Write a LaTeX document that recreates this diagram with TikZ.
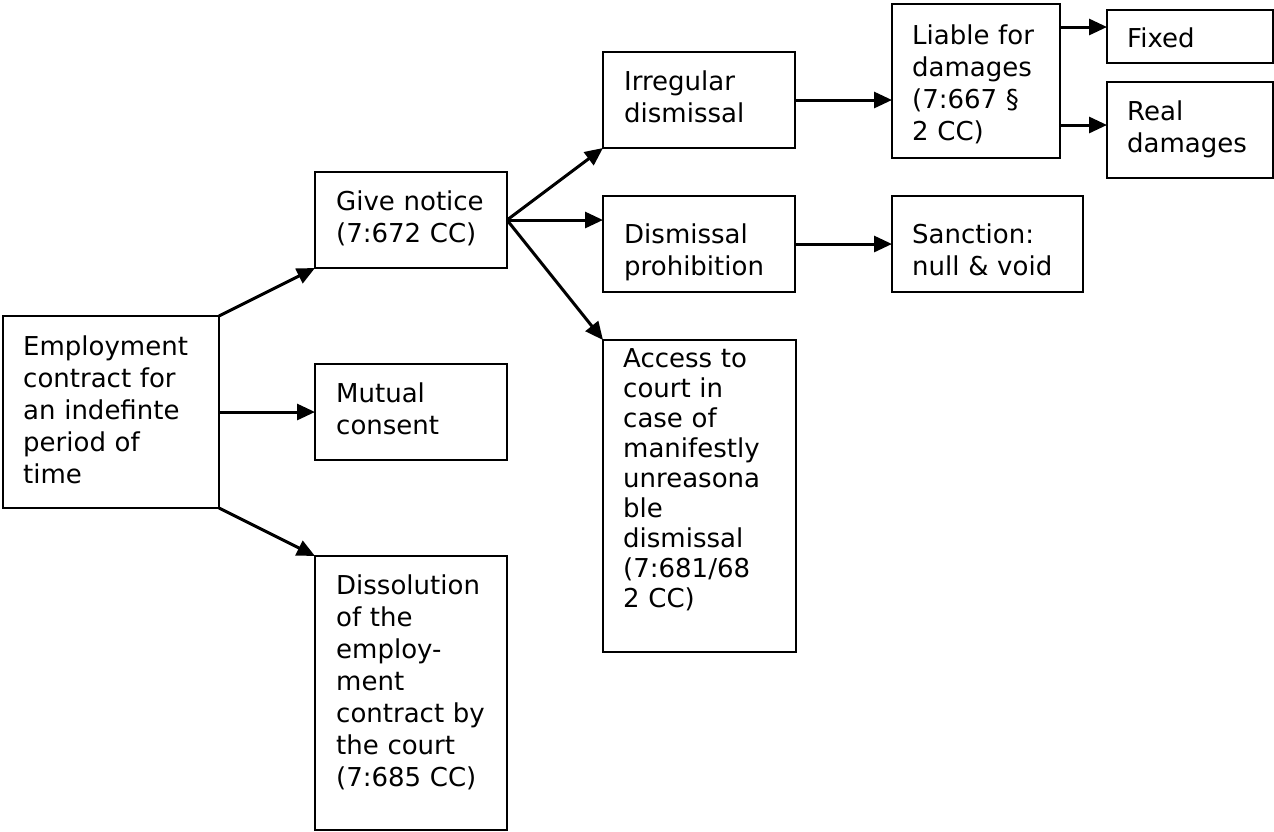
\documentclass[tikz,border=0pt]{standalone}
\usepackage{fontspec}
\setmainfont{DejaVu Sans}
\usetikzlibrary{arrows.meta,calc}
\tikzset{
  box/.style={draw, line width=2pt, rectangle, inner sep=0pt, outer sep=0pt, anchor=north west},
  txt/.style={anchor=base west, inner sep=0pt, align=left, text width=#1, font=\fontsize{26}{32}\selectfont},
  txt/.default=180pt,
  arr/.style={line width=3pt, -{Triangle[length=18pt,width=16pt]}},
}
\begin{document}
\begin{tikzpicture}[x=1pt,y=-1pt]
\useasboundingbox (0,0) rectangle (1274,831);
% boxes
\node[box, minimum width=216pt, minimum height=192pt] (e)  at (3,316) {};
\node[box, minimum width=192pt, minimum height=96pt]  (gn) at (315,172) {};
\node[box, minimum width=192pt, minimum height=96pt]  (mc) at (315,364) {};
\node[box, minimum width=192pt, minimum height=274pt] (ds) at (315,556) {};
\node[box, minimum width=192pt, minimum height=96pt]  (ir) at (603,52) {};
\node[box, minimum width=192pt, minimum height=96pt]  (dp) at (603,196) {};
\node[box, minimum width=193pt, minimum height=312pt] (ac) at (603,340) {};
\node[box, minimum width=168pt, minimum height=154pt] (li) at (892,4) {};
\node[box, minimum width=191pt, minimum height=96pt]  (sa) at (892,196) {};
\node[box, minimum width=166pt, minimum height=53pt]  (fx) at (1107,10) {};
\node[box, minimum width=166pt, minimum height=96pt]  (rd) at (1107,82) {};
% texts
\node[txt] (et) at ($(e.north west)+(20,39)$) {Employment\\contract for\\an indefinte\\period of\\time};
\node[txt] (gnt) at ($(gn.north west)+(21,38)$) {Give notice\\(7:672 CC)};
\node[txt] (mct) at ($(mc.north west)+(21,38)$) {Mutual\\consent};
\node[txt] (dst) at ($(ds.north west)+(21,38)$) {Dissolution\\of the\\employ-\\ment\\contract by\\the court\\(7:685 CC)};
\node[txt] (irt) at ($(ir.north west)+(21,38)$) {Irregular\\dismissal};
\node[txt] (dpt) at ($(dp.north west)+(21,47)$) {Dismissal\\prohibition};
\node[txt, font=\fontsize{26}{30}\selectfont] (act) at ($(ac.north west)+(20,27)$) {Access to\\court in\\case of\\manifestly\\unreasona\\ble\\dismissal\\(7:681/68\\2 CC)};
\node[txt] (lit) at ($(li.north west)+(20,40)$) {Liable for\\damages\\(7:667 \S\\2 CC)};
\node[txt] (sat) at ($(sa.north west)+(20,47)$) {Sanction:\\null \& void};
\node[txt] (fxt) at ($(fx.north west)+(20,37)$) {Fixed};
\node[txt] (rdt) at ($(rd.north west)+(20,38)$) {Real\\damages};
% connectors
\draw[arr] (e.north east) -- (gn.south west);
\draw[arr] (e.east) -- (e.east -| mc.west);
\draw[arr] (e.south east) -- (ds.north west);
\draw[arr] (gn.east) -- (ir.south west);
\draw[arr] (gn.east) -- (gn.east -| dp.west);
\draw[arr] (gn.east) -- (ac.north west);
\draw[arr] (ir.east) -- (ir.east -| li.west);
\draw[arr] (dp.east) -- (dp.east -| sa.west);
\coordinate (lf) at ($(li.north east)+(0,23)$);
\coordinate (lr) at ($(li.north east)+(0,121)$);
\draw[arr] (lf) -- (lf -| fx.west);
\draw[arr] (lr) -- (lr -| rd.west);
\end{tikzpicture}
\end{document}
